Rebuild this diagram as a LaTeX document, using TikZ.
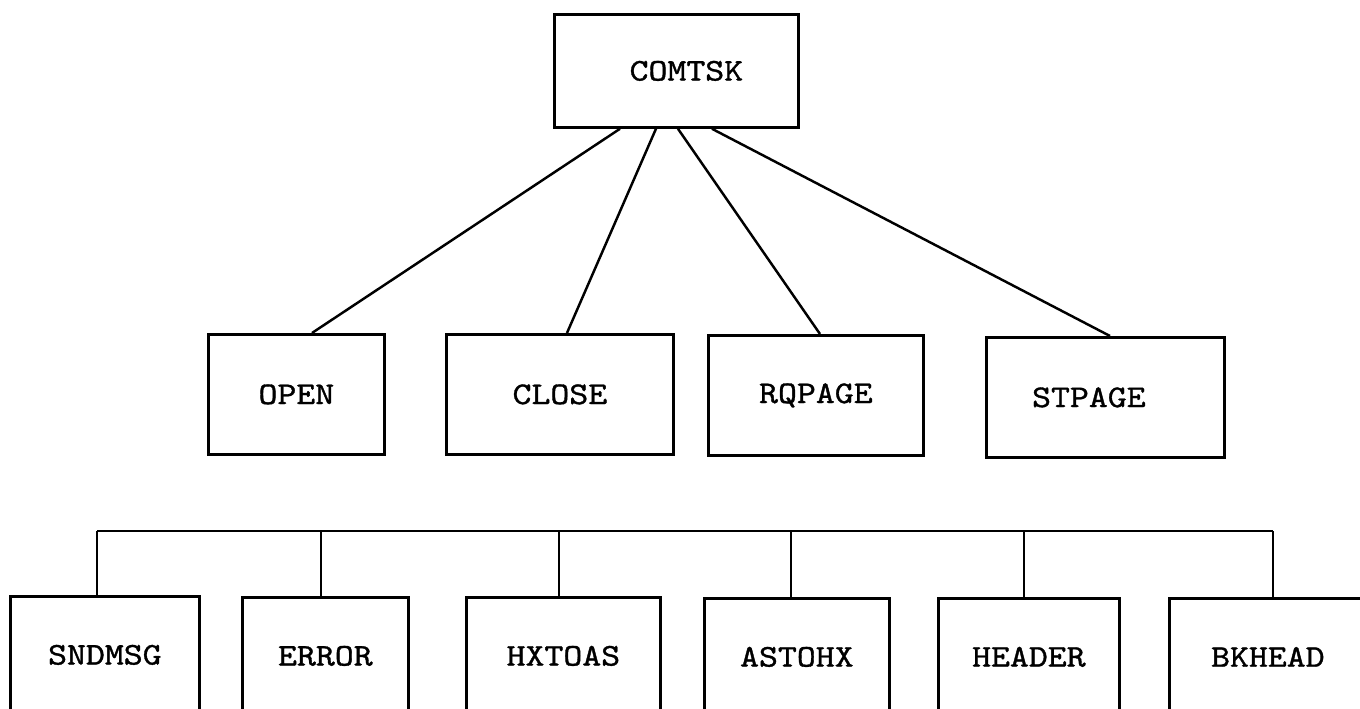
\documentclass[tikz,border=0pt]{standalone}
\usepackage{xcolor}
\usepackage{fontspec}
\newfontfamily\typewriter[FakeBold=1]{lmmono10-regular.otf}

\newcommand{\tw}[1]{\scalebox{1.14}[1]{#1}}

\tikzset{
  modbox/.style={draw, line width=1.6pt, rectangle, inner sep=0pt, anchor=north west,
    font=\typewriter\fontsize{18}{21}\selectfont},
  link/.style={line width=1.4pt}
}

\begin{document}
\begin{tikzpicture}[x=0.02cm, y=-0.02cm]
  \path[use as bounding box, clip] (0,0) rectangle (1360,709);
  % top module
  \node[modbox, minimum width=4.88cm, minimum height=2.26cm] (comtsk) at (553,13) {\hspace{0.4cm}\tw{COMTSK}};
  % second level
  \node[modbox, minimum width=3.52cm, minimum height=2.4cm] (open) at (207,333) {\tw{OPEN}};
  \node[modbox, minimum width=4.54cm, minimum height=2.4cm] (close) at (445,333) {\tw{CLOSE}};
  \node[modbox, minimum width=4.3cm, minimum height=2.4cm] (rqpage) at (707,334) {\tw{RQPAGE}};
  \node[modbox, minimum width=4.76cm, minimum height=2.4cm] (stpage) at (985,336) {\tw{STPAGE}\hspace{0.66cm}\null};
  % utility routines
  \node[modbox, minimum width=3.78cm, minimum height=2.34cm] (sndmsg) at (9,595) {\tw{SNDMSG}};
  \node[modbox, minimum width=3.32cm, minimum height=2.34cm] (error) at (241,596) {\tw{ERROR}};
  \node[modbox, minimum width=3.88cm, minimum height=2.34cm] (hxtoas) at (465,596) {\tw{HXTOAS}};
  \node[modbox, minimum width=3.7cm, minimum height=2.34cm] (astohx) at (703,597) {\tw{ASTOHX}};
  \node[modbox, minimum width=3.62cm, minimum height=2.34cm] (header) at (937,597) {\tw{HEADER}};
  \node[modbox, minimum width=3.94cm, minimum height=2.34cm] (bkhead) at (1168,597) {\tw{BKHEAD}};

  % calls from COMTSK
  \draw[link] ([xshift=1.34cm]comtsk.south west) -- ([xshift=2.1cm]open.north west);
  \draw[link] ([xshift=2.06cm]comtsk.south west) -- ([xshift=2.44cm]close.north west);
  \draw[link] ([xshift=2.5cm]comtsk.south west) -- ([xshift=2.26cm]rqpage.north west);
  \draw[link] ([xshift=3.18cm]comtsk.south west) -- ([xshift=2.5cm]stpage.north west);

  % common bus
  \coordinate (busL) at (97,531);
  \coordinate (busR) at (1273,531);
  \draw[link] (busL) -- (busR);
  \foreach \m/\dx in {sndmsg/1.76, error/1.6, hxtoas/1.88, astohx/1.76, header/1.74, bkhead/2.1}
    \draw[link] ([xshift=\dx cm]\m.north west) -- ([xshift=\dx cm]\m.north west |- busL);
\end{tikzpicture}
\end{document}
